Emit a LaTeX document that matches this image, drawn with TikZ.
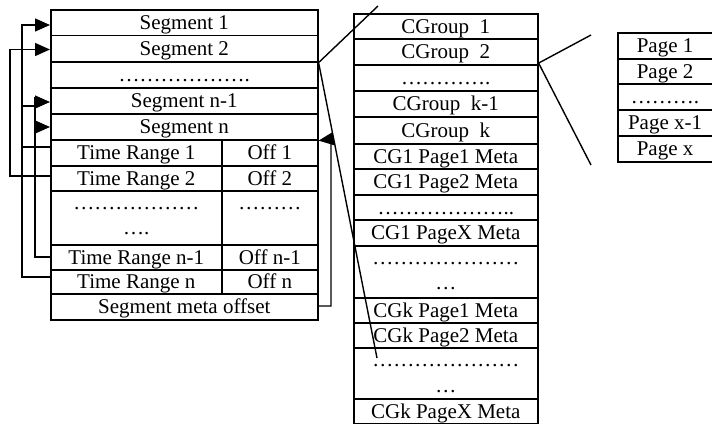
\documentclass[tikz,border=0pt]{standalone}
\usepackage{fontspec}
\setmainfont{Liberation Serif}
\usetikzlibrary{arrows.meta}
\begin{document}
\begin{tikzpicture}[x=1pt,y=-1pt,
  cell/.style={draw,line width=1.6pt,inner sep=0pt,anchor=north west,
    text height=14pt,text depth=0pt,font=\fontsize{21}{25}\selectfont},
  txt/.style={inner sep=0pt,anchor=base,font=\fontsize{21}{25}\selectfont},
  conn/.style={line width=1.4pt},
  tip/.style={-{Triangle[length=15pt,width=13pt]}},
]
\useasboundingbox (0,0) rectangle (712,423);

% ---------- left table ----------
\node[cell,minimum width=267pt,minimum height=25.5pt] (seg1)  at (50,9)   {Segment 1};
\node[cell,minimum width=267pt,minimum height=26.5pt] (seg2)  at (50,34.5){Segment 2};
\node[cell,minimum width=267pt,minimum height=26pt]   (dots1) at (50,61)  {……………….};
\node[cell,minimum width=267pt,minimum height=26pt]   (segn1) at (50,87)  {Segment n-1};
\node[cell,minimum width=267pt,minimum height=26pt]   (segn)  at (50,113) {Segment n};
\node[cell,minimum width=171pt,minimum height=26pt]   (tr1)   at (50,139) {Time Range 1};
\node[cell,minimum width=96pt, minimum height=26pt]   (off1)  at (221,139){Off 1};
\node[cell,minimum width=171pt,minimum height=25pt]   (tr2)   at (50,165) {Time Range 2};
\node[cell,minimum width=96pt, minimum height=25pt]   (off2)  at (221,165){Off 2};
\node[cell,minimum width=171pt,minimum height=54pt]   (trd)   at (50,190) {};
\node[cell,minimum width=96pt, minimum height=54pt]   (offd)  at (221,190){};
\node[cell,minimum width=171pt,minimum height=25pt]   (trn1)  at (50,244) {Time Range n-1};
\node[cell,minimum width=96pt, minimum height=25pt]   (offn1) at (221,244){Off n-1};
\node[cell,minimum width=171pt,minimum height=24pt]   (trn)   at (50,269) {Time Range n};
\node[cell,minimum width=96pt, minimum height=24pt]   (offn)  at (221,269){Off n};
\node[cell,minimum width=267pt,minimum height=26pt]   (smo)   at (50,293) {Segment meta offset};
\node[txt] (trdA) at ([yshift=-19.5pt]trd.north) {………………};
\node[txt] (trdB) at ([yshift=-44.5pt]trd.north) {….};
\node[txt] (offdA) at ([yshift=-19.5pt]offd.north) {………};

% ---------- middle table ----------
\node[cell,minimum width=184pt,minimum height=25pt] (cg1)  at (353,13)  {CGroup~~1};
\node[cell,minimum width=184pt,minimum height=26pt] (cg2)  at (353,38)  {CGroup~~2};
\node[cell,minimum width=184pt,minimum height=26pt] (cgd)  at (353,64)  {………….};
\node[cell,minimum width=184pt,minimum height=26pt] (cgk1) at (353,90)  {CGroup~~k-1};
\node[cell,minimum width=184pt,minimum height=27pt] (cgk)  at (353,116) {CGroup~~k};
\node[cell,minimum width=184pt,minimum height=25pt] (p11)  at (353,143) {CG1 Page1 Meta};
\node[cell,minimum width=184pt,minimum height=26pt] (p12)  at (353,168) {CG1 Page2 Meta};
\node[cell,minimum width=184pt,minimum height=25pt] (p1d)  at (353,194) {………………..};
\node[cell,minimum width=184pt,minimum height=26pt] (p1x)  at (353,219) {CG1 PageX Meta};
\node[cell,minimum width=184pt,minimum height=52pt] (p1dd) at (353,245) {};
\node[cell,minimum width=184pt,minimum height=25pt] (pk1)  at (353,297) {CGk Page1 Meta};
\node[cell,minimum width=184pt,minimum height=25pt] (pk2)  at (353,322) {CGk Page2 Meta};
\node[cell,minimum width=184pt,minimum height=51pt] (pkdd) at (353,347) {};
\node[cell,minimum width=184pt,minimum height=24.5pt] (pkx) at (353,398) {CGk PageX Meta};
\node[txt] (p1ddA) at ([yshift=-19pt]p1dd.north) {…………………};
\node[txt] (p1ddB) at ([yshift=-44pt]p1dd.north) {…};
\node[txt] (pkddA) at ([yshift=-19.5pt]pkdd.north) {…………………};
\node[txt] (pkddB) at ([yshift=-45pt]pkdd.north) {…};

% ---------- right table ----------
\node[cell,minimum width=94.5pt,minimum height=26pt] (r1)  at (617,32)  {Page 1};
\node[cell,minimum width=94.5pt,minimum height=25pt] (r2)  at (617,58)  {Page 2};
\node[cell,minimum width=94.5pt,minimum height=26pt] (rd)  at (617,83)  {……….};
\node[cell,minimum width=94.5pt,minimum height=26pt] (rx1) at (617,109) {Page x-1};
\node[cell,minimum width=94.5pt,minimum height=26pt] (rx)  at (617,135) {Page x};

% ---------- zoom lines ----------
\coordinate (c1top) at (378,6);
\coordinate (c1bot) at (377,358);
\draw[conn] (c1top) -- (seg2.south east) -- (c1bot);
\coordinate (c2v) at ([yshift=2.5pt]cg2.south east);
\coordinate (c2top) at (591,35);
\coordinate (c2bot) at (591,165);
\draw[conn] (c2top) -- (c2v) -- (c2bot);

% ---------- left pointer connectors ----------
\draw[conn,tip] (trn.west |- 0,277) -| (22,25) -- (seg1.west |- 0,25);
\draw[conn] (tr1.west |- 0,147) -- (22,147);
\draw[conn,tip] (tr2.west |- 0,176) -| (10,49.5) -- (seg2.west |- 0,49.5);
\draw[conn] (trn1.west |- 0,257) -| (35,97);
\draw[conn] (22,106) -- (35,106);
\draw[conn,tip] (35,102) -- (segn1.west |- 0,102);
\draw[conn,tip] (35,127) -- (segn.west |- 0,127);

% ---------- right pointer connector ----------
\draw[conn,tip] (smo.east |- 0,306) -- (331,306) -- (331,139) -- (segn.south east);
\end{tikzpicture}
\end{document}
